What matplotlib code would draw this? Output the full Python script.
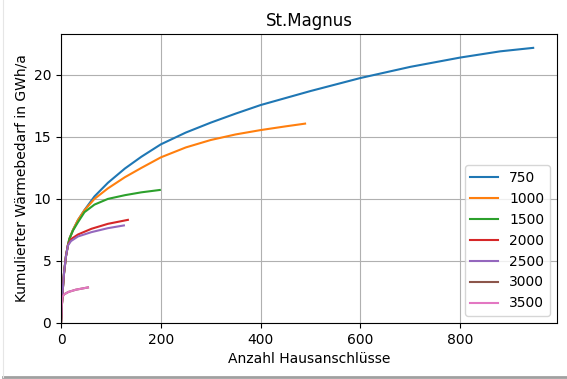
import numpy as np
import matplotlib.pyplot as plt

labels = ['750', '1000', '1500', '2000', '2500', '3000', '3500']

x_750 = [0, 3, 6, 10, 14, 17, 24, 34, 47, 67, 94, 128, 161, 200, 250, 300, 350, 400, 500, 600, 700, 800, 880, 946]
y_750 = [0, 2.4, 4.0, 5.4, 6.3, 6.8, 7.5, 8.3, 9.1, 10.2, 11.3, 12.45, 13.4, 14.4, 15.35, 16.15, 16.88, 17.57, 18.7, 19.75, 20.65, 21.4, 21.9, 22.18]

x_1000 = [0, 3, 6, 10, 14, 17, 24, 34, 47, 67, 94, 128, 161, 200, 250, 300, 350, 400, 450, 489]
y_1000 = [0, 2.4, 4.0, 5.4, 6.3, 6.8, 7.5, 8.3, 9.08, 10.0, 10.85, 11.75, 12.5, 13.35, 14.15, 14.75, 15.2, 15.55, 15.85, 16.07]

x_1500 = [0, 3, 6, 10, 14, 17, 24, 34, 47, 67, 94, 128, 161, 198]
y_1500 = [0, 2.4, 4.0, 5.4, 6.3, 6.8, 7.45, 8.12, 8.93, 9.54, 10.0, 10.3, 10.53, 10.72]

x_2000 = [0, 3, 6, 10, 14, 21, 34, 61, 94, 134]
y_2000 = [0, 2.4, 4.0, 5.4, 6.3, 6.78, 7.13, 7.59, 7.99, 8.31]

x_2500 = [0, 3, 6, 10, 14, 20, 34, 61, 94, 126]
y_2500 = [0, 2.4, 4.0, 5.4, 6.25, 6.6, 6.97, 7.32, 7.64, 7.86]

x_3000 = [0, 1, 3, 6, 15, 30, 54]
y_3000 = [0, 1.2, 2.1, 2.3, 2.5, 2.68, 2.86]

x_3500 = [0, 1, 3, 6, 15, 30, 54]
y_3500 = [0, 1.2, 2.1, 2.3, 2.5, 2.68, 2.86]

xs = [x_750, x_1000, x_1500, x_2000, x_2500, x_3000, x_3500]
ys = [y_750, y_1000, y_1500, y_2000, y_2500, y_3000, y_3500]

fig = plt.figure(figsize=(5.67, 3.79), dpi=100)
ax = fig.add_axes([0.1076, 0.148, 0.8744, 0.762])
for x, y, lab in zip(xs, ys, labels):
    ax.plot(x, y, label=lab)
ax.set_xlim(left=0)
ax.set_ylim(bottom=0)
ax.set_title('St.Magnus')
ax.set_xlabel('Anzahl Hausanschlüsse')
ax.set_ylabel('Kumulierter Wärmebedarf in GWh/a')
ax.grid(True)
ax.legend(loc='lower right')

# grauer Rand unten / links wie im Screenshot
fig.add_artist(plt.Line2D([0.006, 1], [0.004, 0.004], color='#a0a0a0', lw=2))
fig.add_artist(plt.Line2D([0.006, 0.006], [0.004, 1], color='#e6e6e6', lw=0.8))
plt.savefig('out.png', dpi=100)
